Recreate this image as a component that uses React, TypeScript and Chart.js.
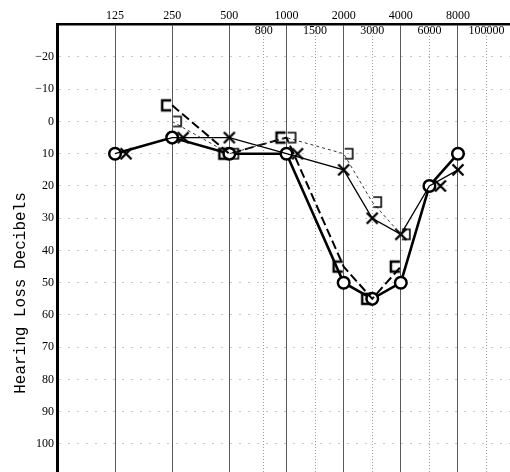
import React, { useEffect, useRef } from 'react';
import { Chart, registerables } from 'chart.js';

Chart.register(...registerables);

// ---- data ----
const freqs = [125, 250, 500, 1000, 2000, 3000, 4000, 6000, 8000];
const rightAir = [10, 5, 10, 10, 50, 55, 50, 20, 10];
const leftAir = [10, 5, 5, 10, 15, 30, 35, 20, 15];
const boneFreqs = [250, 500, 1000, 2000, 3000, 4000];
const boneRight = [-5, 10, 5, 45, 55, 45];
const boneLeft = [0, 10, 5, 10, 25, 35];

const octaveTicks = [125, 250, 500, 1000, 2000, 4000, 8000];
const octaveLabels = ['125', '250', '500', '1000', '2000', '4000', '8000'];
const midTicks = [800, 1500, 3000, 6000, 12000];
const midLabels = ['800', '1500', '3000', '6000', '100000'];
const dbTicks = [-20, -10, 0, 10, 20, 30, 40, 50, 60, 70, 80, 90, 100];
const dbLabels = ['\u221220', '\u221210', '0', '10', '20', '30', '40', '50', '60', '70', '80', '90', '100'];

const X_MIN = -1.015;
const X_MAX = 6.91;
const Y_MIN = -30.23;
const Y_MAX = 108.7;

// audiogram position: octaves above 125 Hz, linear within each octave
function toOct(f: number): number {
  const k = Math.floor(Math.log2(f / 125) + 1e-9);
  const base = 125 * Math.pow(2, k);
  return k + (f / base - 1);
}

function bracket(side: 'left' | 'right', lw: number): HTMLCanvasElement {
  const c = document.createElement('canvas');
  c.width = 26;
  c.height = 16;
  const ctx = c.getContext('2d')!;
  ctx.strokeStyle = '#000';
  ctx.lineWidth = lw;
  ctx.lineJoin = 'miter';
  ctx.beginPath();
  if (side === 'left') {
    ctx.moveTo(12, 3);
    ctx.lineTo(3, 3);
    ctx.lineTo(3, 13);
    ctx.lineTo(12, 13);
  } else {
    ctx.moveTo(14, 3);
    ctx.lineTo(22, 3);
    ctx.lineTo(22, 13);
    ctx.lineTo(14, 13);
  }
  ctx.stroke();
  return c;
}

// X marker; when it would sit on a circle it is drawn beside it (audiogram convention)
function crossMark(shift: number): HTMLCanvasElement {
  const c = document.createElement('canvas');
  c.width = 44;
  c.height = 16;
  const ctx = c.getContext('2d')!;
  const cx = 22 + shift;
  const cy = 8;
  const r = 5.5;
  ctx.strokeStyle = '#000';
  ctx.lineWidth = 2.3;
  ctx.beginPath();
  ctx.moveTo(cx - r, cy - r);
  ctx.lineTo(cx + r, cy + r);
  ctx.moveTo(cx + r, cy - r);
  ctx.lineTo(cx - r, cy + r);
  ctx.stroke();
  return c;
}

const yTitlePlugin = {
  id: 'yTitle',
  afterDraw(chart: any) {
    const ctx = chart.ctx;
    ctx.save();
    ctx.translate(21, 293);
    ctx.rotate(-Math.PI / 2);
    ctx.font = '16px "Liberation Mono"';
    ctx.fillStyle = '#000';
    ctx.textAlign = 'center';
    ctx.textBaseline = 'middle';
    ctx.fillText('Hearing Loss Decibels', 0, 0);
    ctx.restore();
  },
};

export default function App() {
  const ref = useRef<HTMLCanvasElement>(null);

  useEffect(() => {
    document.body.style.margin = '0';
    const leftBr = bracket('left', 2.5);
    const rightBr = bracket('right', 1.6);
    const xCentered = crossMark(0);
    const xBeside = crossMark(11);
    const tickFont = { family: 'Liberation Serif', size: 12 };

    const chart = new Chart(ref.current!, {
      type: 'line',
      data: {
        datasets: [
          {
            label: 'bone-left',
            data: boneFreqs.map((f, i) => ({ x: toOct(f), y: boneLeft[i] })),
            borderColor: '#333',
            borderWidth: 1,
            borderDash: [3, 3],
            pointStyle: rightBr as any,
            pointRadius: 6,
          },
          {
            label: 'bone-right',
            data: boneFreqs.map((f, i) => ({ x: toOct(f), y: boneRight[i] })),
            borderColor: '#000',
            borderWidth: 2,
            borderDash: [9, 4],
            pointStyle: leftBr as any,
            pointRadius: 6,
          },
          {
            label: 'left-air',
            data: freqs.map((f, i) => ({ x: toOct(f), y: leftAir[i] })),
            borderColor: '#000',
            borderWidth: 1.3,
            pointStyle: ((c: any) =>
              leftAir[c.dataIndex] === rightAir[c.dataIndex] ? xBeside : xCentered) as any,
            pointRadius: 7,
          },
          {
            label: 'right-air',
            data: freqs.map((f, i) => ({ x: toOct(f), y: rightAir[i] })),
            borderColor: '#000',
            borderWidth: 2.6,
            pointStyle: 'circle',
            pointRadius: 5.8,
            pointBorderWidth: 2.5,
            pointBackgroundColor: '#fff',
            pointBorderColor: '#000',
          },
        ],
      },
      options: {
        animation: false,
        responsive: false,
        layout: { padding: 0, autoPadding: false },
        plugins: { legend: { display: false }, tooltip: { enabled: false }, title: { display: false } },
        elements: { line: { tension: 0 } },
        scales: {
          x: {
            type: 'linear',
            position: 'top',
            min: X_MIN,
            max: X_MAX,
            afterBuildTicks: (s: any) => {
              s.ticks = octaveTicks.map((f) => ({ value: toOct(f) }));
            },
            afterFit: (s: any) => {
              s.height = 24;
              s.paddingLeft = 0;
              s.paddingRight = 0;
            },
            ticks: {
              autoSkip: false,
              maxRotation: 0,
              padding: 1,
              color: '#000',
              font: tickFont,
              callback: (_v: any, i: number) => octaveLabels[i],
            },
            grid: { color: '#5a5a5a', lineWidth: 1, drawTicks: false },
            border: { display: true, color: '#000', width: 2.5 },
          },
          x2: {
            type: 'linear',
            position: { y: Y_MIN } as any,
            min: X_MIN,
            max: X_MAX,
            afterBuildTicks: (s: any) => {
              s.ticks = midTicks.map((f) => ({ value: toOct(f) }));
            },
            afterFit: (s: any) => {
              s.paddingLeft = 0;
              s.paddingRight = 0;
            },
            ticks: {
              autoSkip: false,
              maxRotation: 0,
              padding: 0,
              color: '#000',
              font: tickFont,
              callback: (_v: any, i: number) => midLabels[i],
            },
            grid: { color: '#999', lineWidth: 1, drawTicks: false },
            border: { display: false, dash: [1, 2] },
          },
          y: {
            type: 'linear',
            position: 'left',
            reverse: true,
            min: Y_MIN,
            max: Y_MAX,
            afterBuildTicks: (s: any) => {
              s.ticks = dbTicks.map((v) => ({ value: v }));
            },
            afterFit: (s: any) => {
              s.width = 57;
              s.paddingTop = 0;
              s.paddingBottom = 0;
            },
            ticks: {
              autoSkip: false,
              padding: 3,
              color: '#000',
              font: tickFont,
              callback: (_v: any, i: number) => dbLabels[i],
            },
            grid: { color: '#c8c8c8', lineWidth: 1, drawTicks: false },
            border: { display: true, color: '#000', width: 3, dash: [2, 7] },
          },
        },
      },
      plugins: [yTitlePlugin],
    });
    return () => chart.destroy();
  }, []);

  return (
    <div style={{ position: 'absolute', left: 0, top: 0, width: 510, height: 472, background: '#fff' }}>
      <canvas ref={ref} width={510} height={472} />
    </div>
  );
}
